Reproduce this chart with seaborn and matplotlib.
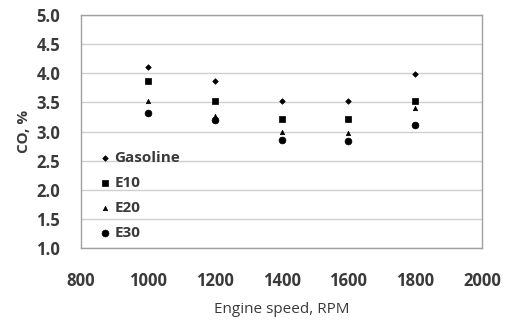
import matplotlib
matplotlib.use("Agg")
import matplotlib.pyplot as plt
import seaborn as sns
import pandas as pd

speeds = [1000, 1200, 1400, 1600, 1800]
gasoline = [4.11, 3.87, 3.53, 3.52, 3.98]
e10 = [3.87, 3.52, 3.22, 3.21, 3.53]
e20 = [3.52, 3.27, 3.00, 2.97, 3.40]
e30 = [3.31, 3.20, 2.85, 2.83, 3.12]
fuels = ["Gasoline", "E10", "E20", "E30"]

rows = []
for name, vals in zip(fuels, [gasoline, e10, e20, e30]):
    for s, v in zip(speeds, vals):
        rows.append({"speed": s, "CO": v, "fuel": name})
df = pd.DataFrame(rows)

sns.set_theme(style="white")
plt.rcParams['font.family'] = ['Open Sans', 'DejaVu Sans']

fig = plt.figure(figsize=(5.06, 3.26), dpi=100)
ax = fig.add_axes([0.160, 0.239, 0.793, 0.715])

markers = {"Gasoline": "D", "E10": "s", "E20": "^", "E30": "o"}
sizes = {"Gasoline": 8, "E10": 22, "E20": 10, "E30": 24}
for name in fuels:
    sub = df[df["fuel"] == name]
    sns.scatterplot(data=sub, x="speed", y="CO", marker=markers[name],
                    s=sizes[name], color="black", edgecolor="black",
                    linewidth=0.5, label=name, ax=ax, zorder=3)

ax.set_xlim(800, 2000)
ax.set_ylim(1.0, 5.0)
ax.set_xticks(range(800, 2001, 200))
ax.set_yticks([1.0, 1.5, 2.0, 2.5, 3.0, 3.5, 4.0, 4.5, 5.0])
ax.set_yticklabels([f"{v:.1f}" for v in ax.get_yticks()])
ax.grid(axis="y", color="#d0d0d0", linewidth=1.0)
ax.set_axisbelow(True)
for sp in ax.spines.values():
    sp.set_color("#a0a0a0")
    sp.set_linewidth(1.0)
ax.tick_params(axis="x", which="major", direction="out", length=3, color="#a0a0a0",
               labelsize=12, labelcolor="#3a3a3a", pad=14)
ax.tick_params(axis="y", which="major", direction="out", length=3, color="#a0a0a0",
               labelsize=12, labelcolor="#3a3a3a", pad=12)
for lab in ax.get_xticklabels() + ax.get_yticklabels():
    lab.set_fontweight("bold")

ax.set_xlabel("Engine speed, RPM", fontsize=11, color="#3a3a3a", labelpad=9)
ax.set_ylabel("CO, %", fontsize=11, color="#3a3a3a", fontweight="bold", labelpad=4)

leg = ax.legend(loc="lower left", bbox_to_anchor=(0.015, -0.01), frameon=False,
                fontsize=11, handletextpad=0.1, labelspacing=0.72, borderaxespad=0.3,
                handlelength=1.0)
for t in leg.get_texts():
    t.set_fontweight("bold")
    t.set_color("#3a3a3a")

fig.savefig("out.png", dpi=100)
